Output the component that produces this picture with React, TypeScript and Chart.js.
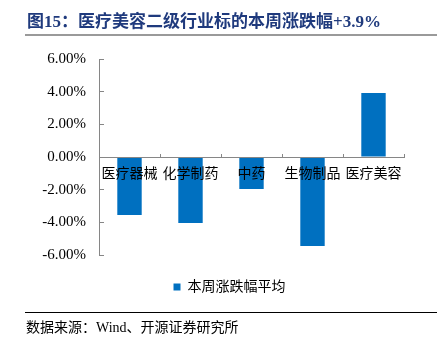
import React, { useEffect, useRef } from "react";
import { Chart, registerables } from "chart.js";

Chart.register(...registerables);

const title = "图15：医疗美容二级行业标的本周涨跌幅+3.9%";
const source = "数据来源：Wind、开源证券研究所";
const seriesName = "本周涨跌幅平均";
const categories = ["医疗器械", "化学制药", "中药", "生物制品", "医疗美容"];
const weeklyChange = [-3.55, -4.04, -1.96, -5.45, 3.92];
const yMin = -6;
const yMax = 6;
const yStep = 2;

const FONT = "'Liberation Serif', 'Times New Roman', 'Noto Sans CJK SC', serif";
const BLUE = "#0070C0";
const AXIS = "#868686";

export default function App() {
  const ref = useRef<HTMLCanvasElement | null>(null);

  useEffect(() => {
    if (!ref.current) return;
    const chart = new Chart(ref.current, {
      type: "bar",
      data: {
        labels: categories,
        datasets: [
          {
            label: seriesName,
            data: weeklyChange,
            backgroundColor: BLUE,
            borderWidth: 0,
            barPercentage: 0.4,
            categoryPercentage: 1,
            yAxisID: "y",
          },
        ],
      },
      options: {
        responsive: false,
        animation: false,
        layout: { padding: { left: 40, right: 25, top: 59, bottom: 44 } },
        plugins: {
          legend: {
            position: "bottom",
            labels: {
              boxWidth: 7,
              boxHeight: 7,
              padding: 25,
              color: "#000",
              font: { size: 14, family: FONT },
            },
          },
          tooltip: { enabled: false },
        },
        scales: {
          x: {
            position: { y: 0 } as any,
            offset: true,
            grid: {
              display: true,
              drawOnChartArea: false,
              drawTicks: true,
              tickLength: -4,
              color: AXIS,
              offset: true,
              z: 1,
            },
            border: { display: true, color: AXIS, width: 1, z: 1 },
            ticks: {
              z: 1,
              padding: 13,
              autoSkip: false,
              maxRotation: 0,
              minRotation: 0,
              color: "#000",
              font: { size: 14, family: FONT },
            },
          },
          y: {
            position: "left",
            min: yMin,
            max: yMax,
            afterFit: (s: any) => {
              s.width = 59;
            },
            grid: {
              display: true,
              drawOnChartArea: false,
              drawTicks: true,
              tickLength: -5,
              color: AXIS,
            },
            border: { display: true, color: AXIS, width: 1 },
            ticks: {
              stepSize: yStep,
              padding: 18,
              color: "#000",
              font: { size: 15, family: FONT },
              callback: (v: any) => Number(v).toFixed(2) + "%",
            },
          },
          yRightSpacer: {
            position: "right",
            display: true,
            min: yMin,
            max: yMax,
            afterFit: (s: any) => {
              s.width = 15;
            },
            grid: { display: false, drawTicks: false },
            border: { display: false },
            ticks: { display: false },
          },
        },
      },
    });
    return () => chart.destroy();
  }, []);

  return (
    <div style={{ position: "fixed", left: 0, top: 0, width: 444, height: 348, background: "#fff" }}>
      <canvas ref={ref} width={444} height={348} style={{ position: "absolute", left: 0, top: 0, width: 444, height: 348 }} />
      <div
        style={{
          position: "absolute",
          left: 27,
          top: 11,
          fontFamily: FONT,
          fontWeight: "bold",
          fontSize: 17,
          color: "#1F3A7D",
          whiteSpace: "nowrap",
          lineHeight: "22px",
        }}
      >
        {title}
      </div>
      <div style={{ position: "absolute", left: 25, top: 34, width: 412, height: 2, background: "#9a9a9a" }} />
      <div style={{ position: "absolute", left: 25, top: 312, width: 412, height: 1, background: "#000" }} />
      <div
        style={{
          position: "absolute",
          left: 26,
          top: 318,
          fontFamily: FONT,
          fontSize: 14,
          color: "#000",
          whiteSpace: "nowrap",
          lineHeight: "20px",
        }}
      >
        {source}
      </div>
    </div>
  );
}
